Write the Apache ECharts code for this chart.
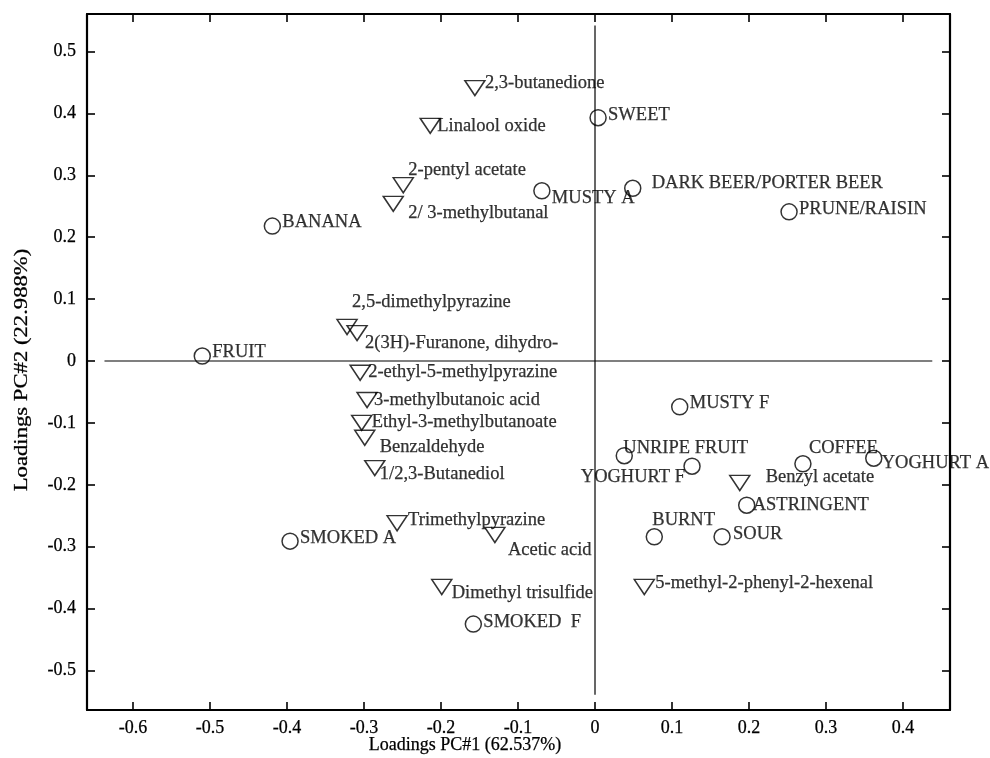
<!DOCTYPE html>
<html><head><meta charset="utf-8">
<script src="https://cdn.jsdelivr.net/npm/echarts@6/dist/echarts.min.js"></script>
<style>html,body{margin:0;padding:0;background:#fff}#chart{width:990px;height:758px}</style>
</head><body><div id="chart"></div>
<script>
// ---- data ----
const attributeNames = ['BANANA','FRUIT','SWEET','MUSTY A','DARK BEER/PORTER BEER','PRUNE/RAISIN','MUSTY F','UNRIPE FRUIT','YOGHURT F','COFFEE','YOGHURT A','ASTRINGENT','BURNT','SOUR','SMOKED A','SMOKED  F'];
const attributePC1 = [-0.419,-0.510,0.004,-0.069,0.049,0.252,0.110,0.038,0.126,0.270,0.362,0.197,0.077,0.165,-0.396,-0.158];
const attributePC2 = [0.218,0.008,0.393,0.275,0.279,0.241,-0.074,-0.153,-0.170,-0.166,-0.157,-0.233,-0.284,-0.284,-0.291,-0.425];

const volatileNames = ['2,3-butanedione','Linalool oxide','2-pentyl acetate','2/ 3-methylbutanal','2,5-dimethylpyrazine','2(3H)-Furanone, dihydro-','2-ethyl-5-methylpyrazine','3-methylbutanoic acid','Ethyl-3-methylbutanoate','Benzaldehyde','1/2,3-Butanediol','Trimethylpyrazine','Acetic acid','Dimethyl trisulfide','Benzyl acetate','5-methyl-2-phenyl-2-hexenal'];
const volatilePC1 = [-0.156,-0.214,-0.249,-0.262,-0.322,-0.309,-0.305,-0.296,-0.303,-0.299,-0.286,-0.257,-0.130,-0.199,0.188,0.064];
const volatilePC2 = [0.441,0.380,0.284,0.254,0.055,0.045,-0.019,-0.063,-0.100,-0.124,-0.173,-0.262,-0.281,-0.365,-0.197,-0.365];

const crossLinePC1 = [-0.637, 0.438];
const crossLinePC2 = [0.542, -0.539];
const pc1Range = [-0.6597, 0.461];
const pc2Range = [-0.5638, 0.5606];
const xTitle = 'Loadings PC#1 (62.537%)';
const yTitle = 'Loadings PC#2 (22.988%)';

// ---- label placement (style only): [dx, dy, align] ----
const labelLayout = {
  'BANANA':[10,-4,'left'],'FRUIT':[10,-4,'left'],'SWEET':[10,-3,'left'],'MUSTY A':[10,7,'left'],
  'DARK BEER/PORTER BEER':[19,-5,'left'],'PRUNE/RAISIN':[10,-3,'left'],'MUSTY F':[10,-4,'left'],
  'UNRIPE FRUIT':[-1,-8,'left'],'YOGHURT F':[-7,11,'right'],'COFFEE':[6,-16,'left'],
  'YOGHURT A':[8,5,'left'],'ASTRINGENT':[6,0,'left'],'BURNT':[-2,-17,'left'],'SOUR':[11,-3,'left'],
  'SMOKED A':[10,-3,'left'],'SMOKED  F':[10,-2,'left'],
  '2,3-butanedione':[10,-5,'left'],'Linalool oxide':[7,0,'left'],'2-pentyl acetate':[5,-15,'left'],
  '2/ 3-methylbutanal':[15,9,'left'],'2,5-dimethylpyrazine':[5,-25,'left'],'2(3H)-Furanone, dihydro-':[8,10,'left'],
  '2-ethyl-5-methylpyrazine':[8,-1,'left'],'3-methylbutanoic acid':[7,0,'left'],'Ethyl-3-methylbutanoate':[10,-1,'left'],
  'Benzaldehyde':[15,9,'left'],'1/2,3-Butanediol':[5,6,'left'],'Trimethylpyrazine':[11,-3,'left'],
  'Acetic acid':[13,15,'left'],'Dimethyl trisulfide':[10,6,'left'],'Benzyl acetate':[26,-6,'left'],
  '5-methyl-2-phenyl-2-hexenal':[11,-4,'left']
};

const FONT = 'Liberation Serif';
function buildPoints(names, xs, ys) {
  return names.map((n, i) => {
    const l = labelLayout[n] || [10, 0, 'left'];
    return { name: n, value: [xs[i], ys[i]], label: { offset: [l[0], l[1]], align: l[2] } };
  });
}
const labelBase = { show: true, position: 'inside', verticalAlign: 'middle', formatter: '{b}',
  fontFamily: FONT, fontSize: 18.5, color: '#000', textBorderColor: '#000', textBorderWidth: 0.25 };

function valueAxis(pos, range, showLabels, isX) {
  return {
    type: 'value', position: pos, min: range[0], max: range[1], splitNumber: 11,
    axisLine: { show: true, onZero: false, lineStyle: { color: '#000', width: 2.2 } },
    axisTick: { show: true, inside: true, length: 8, lineStyle: { color: '#000', width: 1.6 } },
    axisLabel: { show: showLabels, showMinLabel: false, showMaxLabel: false, color: '#000',
      fontFamily: FONT, fontSize: 18, margin: isX ? 9 : 11, textBorderColor: '#000', textBorderWidth: 0.25 },
    splitLine: { show: false }
  };
}

const chart = echarts.init(document.getElementById('chart'), null, { renderer: 'canvas' });
chart.setOption({
  animation: false,
  backgroundColor: '#fff',
  grid: { left: 87, right: 40, top: 14, bottom: 48, containLabel: false },
  xAxis: [valueAxis('bottom', pc1Range, true, true), valueAxis('top', pc1Range, false, true)],
  yAxis: [valueAxis('left', pc2Range, true, false), valueAxis('right', pc2Range, false, false)],
  graphic: [
    { type: 'text', x: 465, y: 745, silent: true,
      style: { text: xTitle, fontFamily: FONT, fontSize: 18, fill: '#000', stroke: '#000', lineWidth: 0.25,
        align: 'center', verticalAlign: 'middle' } },
    { type: 'text', x: 22, y: 370, rotation: Math.PI / 2, scaleX: 1.26, silent: true,
      style: { text: yTitle, fontFamily: FONT, fontSize: 18, fill: '#000', stroke: '#000', lineWidth: 0.25,
        align: 'center', verticalAlign: 'middle' } }
  ],
  series: [
    { type: 'line', silent: true, symbol: 'none', z: 1,
      data: [[crossLinePC1[0], 0], [crossLinePC1[1], 0]], lineStyle: { color: '#000', width: 1.2 } },
    { type: 'line', silent: true, symbol: 'none', z: 1,
      data: [[0, crossLinePC2[0]], [0, crossLinePC2[1]]], lineStyle: { color: '#000', width: 1.2 } },
    { type: 'scatter', name: 'attributes', z: 3, symbol: 'circle', symbolSize: 16,
      itemStyle: { color: 'rgba(0,0,0,0)', borderColor: '#000', borderWidth: 1.5 },
      label: labelBase, emphasis: { disabled: true },
      data: buildPoints(attributeNames, attributePC1, attributePC2) },
    { type: 'scatter', name: 'volatiles', z: 3, symbol: 'path://M0,0L20,0L10,15Z', symbolSize: [20, 15],
      itemStyle: { color: 'rgba(0,0,0,0)', borderColor: '#000', borderWidth: 1.5 },
      label: labelBase, emphasis: { disabled: true },
      data: buildPoints(volatileNames, volatilePC1, volatilePC2) }
  ]
});
</script></body></html>
